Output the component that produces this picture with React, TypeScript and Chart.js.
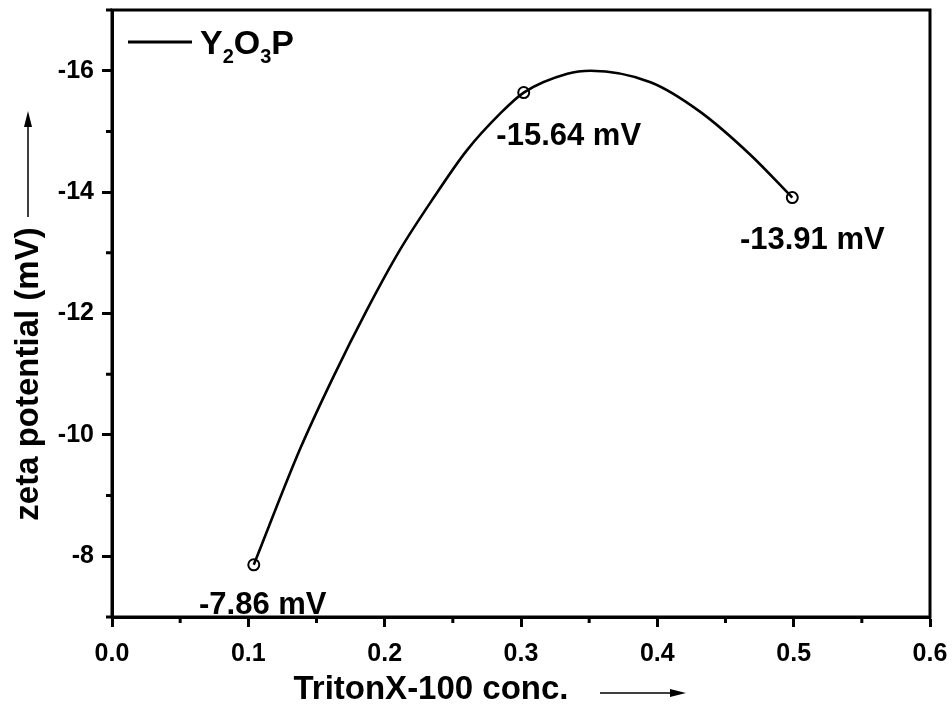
import { useEffect, useRef } from 'react';
import { Chart, registerables } from 'chart.js';

Chart.register(...registerables);

// Measured zeta potential at three surfactant concentrations
const measuredConc = [0.104, 0.302, 0.499];
const measuredZeta = [-7.86, -15.64, -13.91];

// Smoothed trend curve through the measurements
const fitConc = [0.104, 0.138, 0.162, 0.187, 0.211, 0.236, 0.26, 0.285, 0.302, 0.334, 0.351, 0.395, 0.431, 0.468, 0.499];
const fitZeta = [-7.86, -9.77, -10.94, -12.06, -13.04, -13.91, -14.68, -15.3, -15.64, -15.95, -16.0, -15.81, -15.33, -14.62, -13.91];

// Axis ticks
const xTicks = [0, 0.1, 0.2, 0.3, 0.4, 0.5, 0.6];
const xMinorTicks = [0.05, 0.15, 0.25, 0.35, 0.45, 0.55];
const yTicks = [-16, -14, -12, -10, -8];
const yMinorTicks = [-17, -15, -13, -11, -9, -7];

const xTitle = 'TritonX-100 conc.';
const yTitle = 'zeta potential (mV)';
const legendParts = [
  { text: 'Y', sub: false },
  { text: '2', sub: true },
  { text: 'O', sub: false },
  { text: '3', sub: true },
  { text: 'P', sub: false },
];

const FONT = "'Liberation Sans', Arial, Helvetica, sans-serif";

const valueLabelOffsets = [
  { dx: 9, dy: 41 },
  { dx: 45, dy: 44 },
  { dx: 20, dy: 43 },
];

const decorations = {
  id: 'decorations',
  afterDraw(chart: any) {
    const { ctx, chartArea: a, scales } = chart;
    const xs = scales.x;
    const ys = scales.y;
    ctx.save();
    ctx.strokeStyle = '#000';
    ctx.fillStyle = '#000';

    // frame
    ctx.lineWidth = 3;
    ctx.strokeRect(a.left, a.top, a.right - a.left, a.bottom - a.top);

    // minor ticks
    ctx.beginPath();
    xMinorTicks.forEach((v) => {
      const p = xs.getPixelForValue(v);
      ctx.moveTo(p, a.bottom);
      ctx.lineTo(p, a.bottom + 6);
    });
    yMinorTicks.forEach((v) => {
      const p = ys.getPixelForValue(v);
      ctx.moveTo(a.left, p);
      ctx.lineTo(a.left - 6, p);
    });
    ctx.stroke();

    // value labels next to each measurement
    ctx.font = `bold 31px ${FONT}`;
    ctx.textAlign = 'center';
    ctx.textBaseline = 'middle';
    measuredZeta.forEach((v, i) => {
      const px = xs.getPixelForValue(measuredConc[i]) + valueLabelOffsets[i].dx;
      const py = ys.getPixelForValue(v) + valueLabelOffsets[i].dy;
      ctx.fillText(`${v.toFixed(2)} mV`, px, py);
    });

    // legend
    const ly = a.top + 32;
    ctx.lineWidth = 3;
    ctx.beginPath();
    ctx.moveTo(a.left + 16, ly);
    ctx.lineTo(a.left + 80, ly);
    ctx.stroke();
    ctx.textAlign = 'left';
    ctx.textBaseline = 'alphabetic';
    let lx = a.left + 88;
    legendParts.forEach((part) => {
      ctx.font = part.sub ? `bold 20px ${FONT}` : `bold 34px ${FONT}`;
      ctx.fillText(part.text, lx, part.sub ? ly + 21 : ly + 12);
      lx += ctx.measureText(part.text).width;
    });

    // axis titles
    ctx.font = `bold 33px ${FONT}`;
    ctx.textAlign = 'center';
    ctx.textBaseline = 'middle';
    ctx.fillText(xTitle, 431, 690);
    ctx.save();
    ctx.translate(29, 374);
    ctx.rotate(-Math.PI / 2);
    ctx.fillText(yTitle, 0, 0);
    ctx.restore();

    // direction arrows
    ctx.lineWidth = 1.5;
    ctx.beginPath();
    ctx.moveTo(600, 693);
    ctx.lineTo(672, 693);
    ctx.moveTo(28, 217);
    ctx.lineTo(28, 125);
    ctx.stroke();
    ctx.beginPath();
    ctx.moveTo(686, 693);
    ctx.lineTo(670, 689);
    ctx.lineTo(670, 697);
    ctx.closePath();
    ctx.fill();
    ctx.beginPath();
    ctx.moveTo(28, 111);
    ctx.lineTo(24, 127);
    ctx.lineTo(32, 127);
    ctx.closePath();
    ctx.fill();

    ctx.restore();
  },
};

export default function App() {
  const canvasRef = useRef<HTMLCanvasElement | null>(null);

  useEffect(() => {
    const canvas = canvasRef.current;
    if (!canvas) return;
    const chart = new Chart(canvas, {
      type: 'line',
      data: {
        datasets: [
          {
            label: 'fit',
            data: fitConc.map((x, i) => ({ x, y: fitZeta[i] })),
            borderColor: '#000',
            borderWidth: 2.6,
            pointRadius: 0,
            fill: false,
            cubicInterpolationMode: 'monotone',
          },
          {
            label: 'measured',
            data: measuredConc.map((x, i) => ({ x, y: measuredZeta[i] })),
            showLine: false,
            pointStyle: 'circle',
            pointRadius: 5.5,
            pointBorderWidth: 2,
            pointBorderColor: '#000',
            pointBackgroundColor: 'rgba(0,0,0,0)',
          },
        ],
      },
      options: {
        animation: false,
        responsive: false,
        devicePixelRatio: 1,
        layout: { padding: { top: 10, right: 22, left: 0, bottom: 0 } },
        plugins: {
          legend: { display: false },
          tooltip: { enabled: false },
        },
        scales: {
          x: {
            type: 'linear',
            min: 0,
            max: 0.6,
            afterBuildTicks: (scale: any) => {
              scale.ticks = xTicks.map((value) => ({ value }));
            },
            afterFit: (scale: any) => {
              scale.height = 91;
              scale.paddingLeft = 0;
              scale.paddingRight = 0;
            },
            ticks: {
              color: '#000',
              font: { family: FONT, size: 25, weight: 'bold' },
              padding: 12,
              maxRotation: 0,
              autoSkip: false,
              callback: (v: any) => Number(v).toFixed(1),
            },
            grid: {
              drawOnChartArea: false,
              drawTicks: true,
              tickLength: 10,
              tickWidth: 3,
              tickColor: '#000',
            },
            border: { display: true, color: '#000', width: 3 },
          },
          y: {
            type: 'linear',
            min: -17,
            max: -7,
            reverse: true,
            afterBuildTicks: (scale: any) => {
              scale.ticks = yTicks.map((value) => ({ value }));
            },
            afterFit: (scale: any) => {
              scale.width = 112;
              scale.paddingTop = 0;
              scale.paddingBottom = 0;
            },
            ticks: {
              color: '#000',
              font: { family: FONT, size: 25, weight: 'bold' },
              padding: 8,
              autoSkip: false,
              callback: (v: any) => String(v),
            },
            grid: {
              drawOnChartArea: false,
              drawTicks: true,
              tickLength: 10,
              tickWidth: 3,
              tickColor: '#000',
            },
            border: { display: true, color: '#000', width: 3 },
          },
        },
      },
      plugins: [decorations],
    });
    return () => chart.destroy();
  }, []);

  return (
    <div style={{ position: 'absolute', left: 0, top: 0, width: 952, height: 708, background: '#fff' }}>
      <canvas ref={canvasRef} width={952} height={708} style={{ display: 'block' }} />
    </div>
  );
}
